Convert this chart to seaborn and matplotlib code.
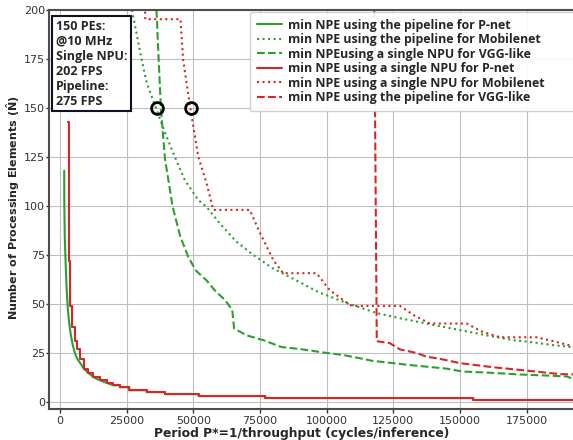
import numpy as np
import pandas as pd
import seaborn as sns
import matplotlib.pyplot as plt

# values
pnet_pipe_x = [1600, 1650, 1800, 2100, 2500, 2900, 3400, 4000, 4800, 5600, 6500, 7500, 9000,
               10600, 13100, 16000, 20000, 22500, 22500, 26000, 26000, 32500, 32500, 39400,
               39400, 52000, 52000, 77000, 77000, 155000, 155000, 195000]
pnet_pipe_y = [118, 100, 85, 72, 58, 48.6, 41, 35, 29, 25, 22, 20, 17, 14.8, 12.2, 10.5, 8.5,
               8.5, 7.5, 7.5, 6, 6, 5, 5, 4, 4, 3, 3, 2, 2, 1, 1]

mobile_pipe_x = [27000, 30600, 32500, 36000, 39500, 43100, 46900, 51900, 55000, 60000, 66000,
                 72500, 80000, 88700, 97000, 107500, 118700, 127500, 137500, 145000, 152500,
                 160000, 170000, 177000, 185000, 195000]
mobile_pipe_y = [200, 175, 163, 150, 137, 125, 113, 103, 99.5, 91, 82, 75, 68, 62, 56, 50.5,
                 45.4, 42.7, 40, 38, 36, 34, 31.5, 30.5, 29, 27.5]

vgg_single_x = [36200, 37000, 37900, 39400, 42200, 45000, 48100, 51000, 55000, 58000, 61900,
                64600, 65300, 70000, 76300, 83100, 90000, 100000, 106000, 111700, 117000,
                123700, 130000, 137500, 145000, 151000, 160000, 172500, 182000, 190000, 192000,
                195000]
vgg_single_y = [200, 175, 149, 124, 100, 85, 74, 67, 62, 57, 52, 47, 37.5, 34, 31.5, 28, 27,
                25, 24, 22.5, 21, 20, 19, 18, 17, 15.5, 15, 14, 13.5, 13, 12, 12]

pnet_single_x = [3100, 3300, 3700, 4600, 5500, 6500, 7500, 9000, 10500, 12500, 15000, 17500,
                 20000, 22500, 26000, 32500, 39400, 52000, 77000, 155000, 195000]
pnet_single_y = [143, 72, 49, 38, 31, 27, 22, 17, 15, 12.5, 11, 9.5, 8.5, 7.5, 6, 5, 4, 3, 2,
                 1, 1]

mobile_single_x = [31900, 32000, 45200, 46200, 49000, 51900, 55000, 57500, 71200, 74400, 80000,
                   83700, 96200, 101200, 108700, 110000, 127500, 133000, 138700, 152500, 158000,
                   165000, 178700, 185000, 195000]
mobile_single_y = [202, 195.3, 195.3, 174.5, 149, 125, 111.5, 98, 98, 88, 72.4, 65.7, 65.7, 57,
                   49.5, 49, 49, 44, 40, 40, 36, 33, 33, 31, 27.5]

vgg_pipe_x = [117800, 118800, 123700, 127500, 133700, 137500, 142500, 150000, 156000, 162500,
              175000, 187500, 195000]
vgg_pipe_y = [210, 31, 30, 26.8, 25, 23.1, 22, 19.8, 18.8, 17.7, 16, 14.2, 14]

marked_x = [36400, 49200]
marked_y = [150, 150]

info_text = "150 PEs:\n@10 MHz\nSingle NPU:\n202 FPS\nPipeline:\n275 FPS"

green = '#2ca02c'
red = '#d62728'

sns.set_style("whitegrid", {"axes.edgecolor": "0.3", "grid.color": "0.75",
                            "xtick.bottom": True, "ytick.left": True})
plt.rcParams['xtick.direction'] = 'out'
plt.rcParams['ytick.direction'] = 'out'
plt.rcParams['mathtext.fontset'] = 'dejavusans'

fig = plt.figure(figsize=(5.73, 4.4), dpi=100)
ax = fig.add_axes([49 / 573, 31 / 440, 531 / 573, 399 / 440])

series = [
    (pnet_pipe_x, pnet_pipe_y, green, '-', 'min NPE using the pipeline for P-net', 'default'),
    (mobile_pipe_x, mobile_pipe_y, green, ':', 'min NPE using the pipeline for Mobilenet', 'default'),
    (vgg_single_x, vgg_single_y, green, '--', 'min NPEusing a single NPU for VGG-like', 'default'),
    (pnet_single_x, pnet_single_y, red, '-', 'min NPE using a single NPU for P-net', 'steps-post'),
    (mobile_single_x, mobile_single_y, red, ':', 'min NPE using a single NPU for Mobilenet', 'default'),
    (vgg_pipe_x, vgg_pipe_y, red, '--', 'min NPE using the pipeline for VGG-like', 'default'),
]
for xs, ys, c, ls, lab, ds in series:
    df = pd.DataFrame({'x': xs, 'y': ys})
    sns.lineplot(data=df, x='x', y='y', color=c, linestyle=ls, linewidth=1.5,
                 sort=False, estimator=None, label=lab, drawstyle=ds, ax=ax)

ax.plot(marked_x, marked_y, 'o', mfc='none', mec='black', ms=8.5, mew=2, zorder=5)

ax.set_xlim(-4100, 195000)
ax.set_ylim(-3.6, 200)
ax.set_xticks([0, 25000, 50000, 75000, 100000, 125000, 150000, 175000])
ax.set_yticks([0, 25, 50, 75, 100, 125, 150, 175, 200])
ax.tick_params(labelsize=8, length=3, width=1, colors='0.2')
ax.tick_params(axis='x', pad=2)
ax.tick_params(axis='y', pad=0.3, length=2.5)
for s in ax.spines.values():
    s.set_linewidth(1.5)

ax.set_xlabel('Period P*=1/throughput (cycles/inference)', fontsize=8.9, fontweight='bold')
ax.xaxis.set_label_coords((302 - 49) / 531, -0.046)
ax.set_ylabel(r'Number of Processing Elements ($\mathbf{\hat{N}}$)', fontsize=8,
              fontweight='bold')
ax.yaxis.set_label_coords(-0.05, 0.505)

leg = ax.legend(loc='upper left', bbox_to_anchor=(250 / 573, 1 - 12 / 440, 360 / 573, 0),
                bbox_transform=fig.transFigure, borderaxespad=0, mode='expand',
                prop={'family': 'Open Sans', 'weight': 'bold', 'size': 8.9},
                labelspacing=0.12, handlelength=2.0, handletextpad=0.5, framealpha=0.9,
                borderpad=0.55)

ax.text(0.0132, 0.976, info_text, transform=ax.transAxes, ha='left', va='top',
        fontsize=9.0, fontweight='bold', family='Open Sans', linespacing=1.2,
        bbox=dict(boxstyle='square,pad=0.3', facecolor='white', edgecolor='#111122', linewidth=1.5))

fig.savefig('out.png', dpi=100)
